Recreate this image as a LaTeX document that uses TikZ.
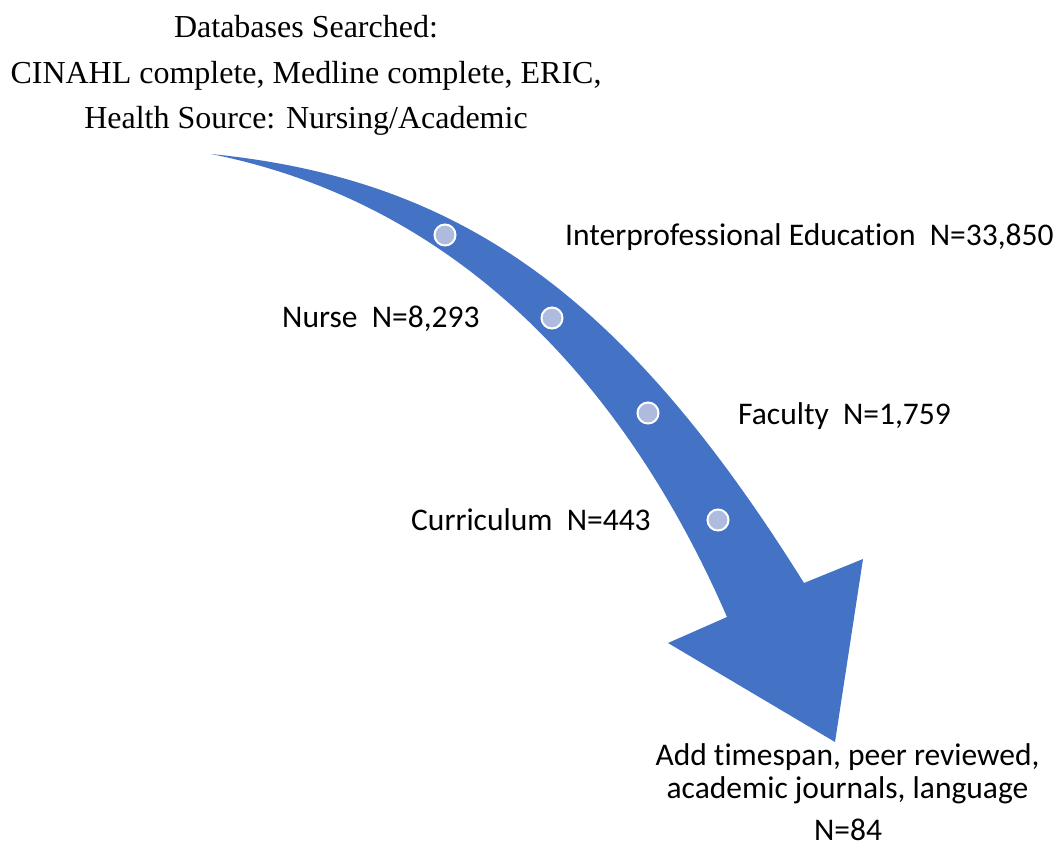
\documentclass[tikz,border=0pt]{standalone}
\usepackage{fontspec}
\setmainfont{Liberation Serif}
\newfontfamily\calib[Ligatures=NoCommon]{Carlito}
\definecolor{arrowblue}{RGB}{68,114,196}
\definecolor{dotfill}{RGB}{174,186,222}
\tikzset{
  dotnode/.style={circle, fill=dotfill, draw=white, line width=2pt, minimum size=21pt, inner sep=0pt},
  lbl/.style={font=\calib\fontsize{31.5}{34}\selectfont, inner sep=0pt, anchor=base west},
  ttl/.style={font=\fontsize{32}{46}\selectfont, inner sep=0pt, anchor=base},
  btm/.style={font=\calib\fontsize{31.5}{34}\selectfont, inner sep=0pt, anchor=base}
}
\begin{document}
\begin{tikzpicture}[x=1pt,y=-1pt]
\useasboundingbox (0,0) rectangle (1061,849);
% curved arrow
\fill[arrowblue] (211,154) .. controls (461,179) and (624,295) .. (804,583)
  -- (863,559) -- (835,742) -- (668,643) -- (727,617)
  .. controls (652,444) and (501,212) .. (211,154) -- cycle;
% dots
\node[dotnode] (d1) at (445,235) {};
\node[dotnode] (d2) at (552,318) {};
\node[dotnode] (d3) at (648,413) {};
\node[dotnode] (d4) at (718,520) {};
% title
\node[ttl] (t1) at (306,37) {Databases Searched:};
\node[ttl] (t2) at (306,83) {CINAHL complete, Medline complete, ERIC,};
\node[ttl] (t3) at (306,128) {Health Source: Nursing/Academic};
% labels
\node[lbl] (l1) at (565,245) {Interprofessional Education\ \ N=33,850};
\node[lbl] (l2) at (282,327) {Nurse\ \ N=8,293};
\node[lbl] (l3) at (738,424) {Faculty\ \ N=1,759};
\node[lbl] (l4) at (411,530) {Curriculum\ \ N=443};
% bottom
\node[btm] (b1) at (847.5,765) {Add timespan, peer reviewed,};
\node[btm] (b2) at (847.5,798) {academic journals, language};
\node[btm] (b3) at (848,840) {N=84};
\end{tikzpicture}
\end{document}
